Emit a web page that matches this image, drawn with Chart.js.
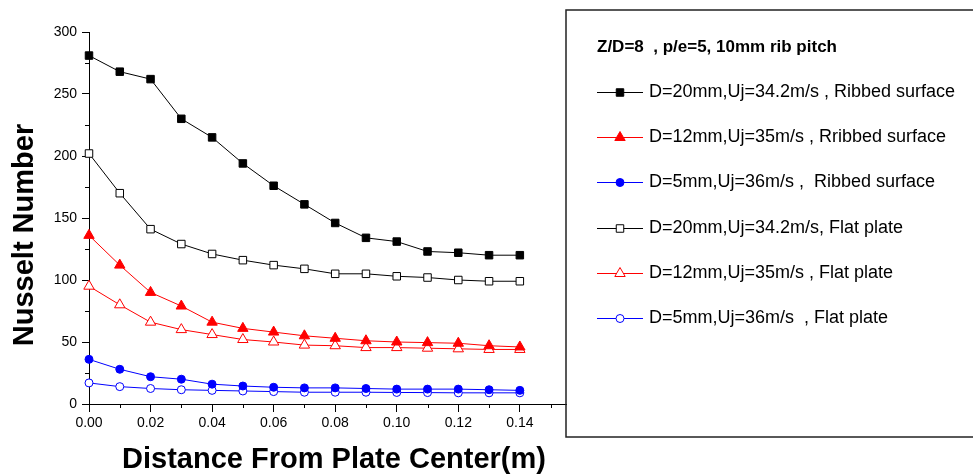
<!DOCTYPE html>
<html>
<head>
<meta charset="utf-8">
<title>Nusselt Number vs Distance From Plate Center</title>
<script src="https://cdn.jsdelivr.net/npm/chart.js"></script>
<style>
  html, body { margin: 0; padding: 0; background: #fff; }
  #wrap { width: 973px; height: 475px; }
</style>
</head>
<body>
<div id="wrap"><canvas id="nuChart" width="973" height="475"></canvas></div>
<script>
// Radial distance from the plate center (m)
const distance = [0, 0.01, 0.02, 0.03, 0.04, 0.05, 0.06, 0.07, 0.08, 0.09, 0.10, 0.11, 0.12, 0.13, 0.14];

// Nusselt number, ribbed surface
const ribbed20 = [281, 268, 262, 230, 215, 194, 176, 161, 146, 134, 131, 123, 122, 120, 120];
const ribbed12 = [136, 112, 90, 79, 66, 61, 58, 55, 53, 51, 50, 49.5, 49, 47, 46];
const ribbed5  = [36, 28, 22, 20, 16, 14.5, 13.5, 13, 13, 12.5, 12, 12, 12, 11.5, 11];

// Nusselt number, flat plate
const flat20 = [202, 170, 141, 129, 121, 116, 112, 109, 105, 105, 103, 102, 100, 99, 99];
const flat12 = [95, 80, 66, 60, 56, 52, 50, 47.5, 47, 45.5, 45.5, 45, 44.5, 44, 44];
const flat5  = [17, 14, 12.5, 11.5, 11, 10.5, 10, 9.5, 9.5, 9.5, 9.3, 9.2, 9, 9, 9];

const legendTitle = 'Z/D=8  , p/e=5, 10mm rib pitch';
const seriesLabels = [
    'D=20mm,Uj=34.2m/s , Ribbed surface',
    'D=12mm,Uj=35m/s , Rribbed surface',
    'D=5mm,Uj=36m/s ,  Ribbed surface',
    'D=20mm,Uj=34.2m/s, Flat plate',
    'D=12mm,Uj=35m/s , Flat plate',
    'D=5mm,Uj=36m/s  , Flat plate'
];

const xTitle = 'Distance From Plate Center(m)';
const yTitle = 'Nusselt Number';

const FONT = '"Liberation Sans", Arial, Helvetica, sans-serif';

function toPoints(values) {
    return values.map((v, i) => ({ x: distance[i], y: v }));
}

function makeSet(label, values, color, style, radius, hollow) {
    return {
        label: label,
        data: toPoints(values),
        borderColor: color,
        borderWidth: 1,
        backgroundColor: color,
        pointStyle: style,
        pointRadius: radius,
        pointHoverRadius: radius,
        pointBorderColor: color,
        pointBorderWidth: 1,
        pointBackgroundColor: hollow ? '#ffffff' : color,
        tension: 0,
        fill: false,
        clip: false
    };
}

// Minor ticks between the labelled ones
const minorTicks = {
    id: 'minorTicks',
    afterDraw(chart) {
        const ctx = chart.ctx;
        const xs = chart.scales.x, ys = chart.scales.y;
        const area = chart.chartArea;
        ctx.save();
        ctx.strokeStyle = '#000';
        ctx.lineWidth = 1;
        ctx.beginPath();
        for (let k = 1; k <= 15; k += 2) {
            const px = Math.round(xs.getPixelForValue(k / 100)) + 0.5;
            ctx.moveTo(px, area.bottom);
            ctx.lineTo(px, area.bottom + 4);
        }
        for (let v = 25; v < 300; v += 50) {
            const py = Math.round(ys.getPixelForValue(v)) + 0.5;
            ctx.moveTo(area.left, py);
            ctx.lineTo(area.left - 4, py);
        }
        ctx.stroke();
        ctx.restore();
    }
};

// Bold axis titles
const axisTitles = {
    id: 'axisTitles',
    afterDraw(chart) {
        const ctx = chart.ctx;
        ctx.save();
        ctx.fillStyle = '#000';
        ctx.font = 'bold 29px ' + FONT;
        ctx.textAlign = 'center';
        ctx.textBaseline = 'alphabetic';
        ctx.fillText(xTitle, 334, 468);
        ctx.translate(33, 235);
        ctx.rotate(-Math.PI / 2);
        ctx.fillText(yTitle, 0, 0);
        ctx.restore();
    }
};

// Boxed legend on the right, built from the datasets
const boxLegend = {
    id: 'boxLegend',
    afterDraw(chart) {
        const ctx = chart.ctx;
        ctx.save();
        ctx.strokeStyle = '#222';
        ctx.lineWidth = 1.5;
        ctx.strokeRect(566, 10, 430, 427);

        ctx.fillStyle = '#000';
        ctx.textAlign = 'left';
        ctx.textBaseline = 'middle';
        ctx.font = 'bold 17px ' + FONT;
        ctx.fillText(legendTitle, 597, 47);

        ctx.font = '18px ' + FONT;
        chart.data.datasets.forEach((ds, i) => {
            const y = Math.round(92 + i * 45.2) + 0.5;
            ctx.strokeStyle = ds.borderColor;
            ctx.lineWidth = 1;
            ctx.beginPath();
            ctx.moveTo(597, y);
            ctx.lineTo(643, y);
            ctx.stroke();
            ctx.fillStyle = ds.pointBackgroundColor;
            Chart.helpers.drawPoint(ctx, {
                pointStyle: ds.pointStyle,
                radius: ds.pointRadius,
                borderWidth: 1,
                rotation: 0
            }, 620, y);
            ctx.fillStyle = '#000';
            ctx.fillText(ds.label, 649, y);
        });
        ctx.restore();
    }
};

const ctx = document.getElementById('nuChart');
new Chart(ctx, {
    type: 'line',
    data: {
        datasets: [
            makeSet(seriesLabels[0], ribbed20, '#000000', 'rect', 5.3, false),
            makeSet(seriesLabels[1], ribbed12, '#ff0000', 'triangle', 6, false),
            makeSet(seriesLabels[2], ribbed5, '#0000ff', 'circle', 4, false),
            makeSet(seriesLabels[3], flat20, '#000000', 'rect', 5.3, true),
            makeSet(seriesLabels[4], flat12, '#ff0000', 'triangle', 6, true),
            makeSet(seriesLabels[5], flat5, '#0000ff', 'circle', 4, true)
        ]
    },
    options: {
        responsive: false,
        animation: false,
        events: [],
        layout: { padding: { top: 32, right: 407, left: 0, bottom: 0 } },
        plugins: {
            legend: { display: false },
            tooltip: { enabled: false }
        },
        scales: {
            x: {
                type: 'linear',
                min: 0,
                max: 0.155,
                afterFit: (scale) => { scale.height = 71; },
                border: { color: '#000', width: 1 },
                grid: { drawOnChartArea: false, drawTicks: true, tickLength: 8, tickColor: '#000' },
                ticks: {
                    stepSize: 0.02,
                    includeBounds: false,
                    maxRotation: 0,
                    padding: 3,
                    color: '#000',
                    font: { family: FONT, size: 14 },
                    callback: (v) => v.toFixed(2)
                }
            },
            y: {
                min: 0,
                max: 300,
                afterFit: (scale) => { scale.width = 89; },
                border: { color: '#000', width: 1 },
                grid: { drawOnChartArea: false, drawTicks: true, tickLength: 7, tickColor: '#000' },
                ticks: {
                    stepSize: 50,
                    padding: 5,
                    color: '#000',
                    font: { family: FONT, size: 14 }
                }
            }
        }
    },
    plugins: [minorTicks, axisTitles, boxLegend]
});
</script>
</body>
</html>
